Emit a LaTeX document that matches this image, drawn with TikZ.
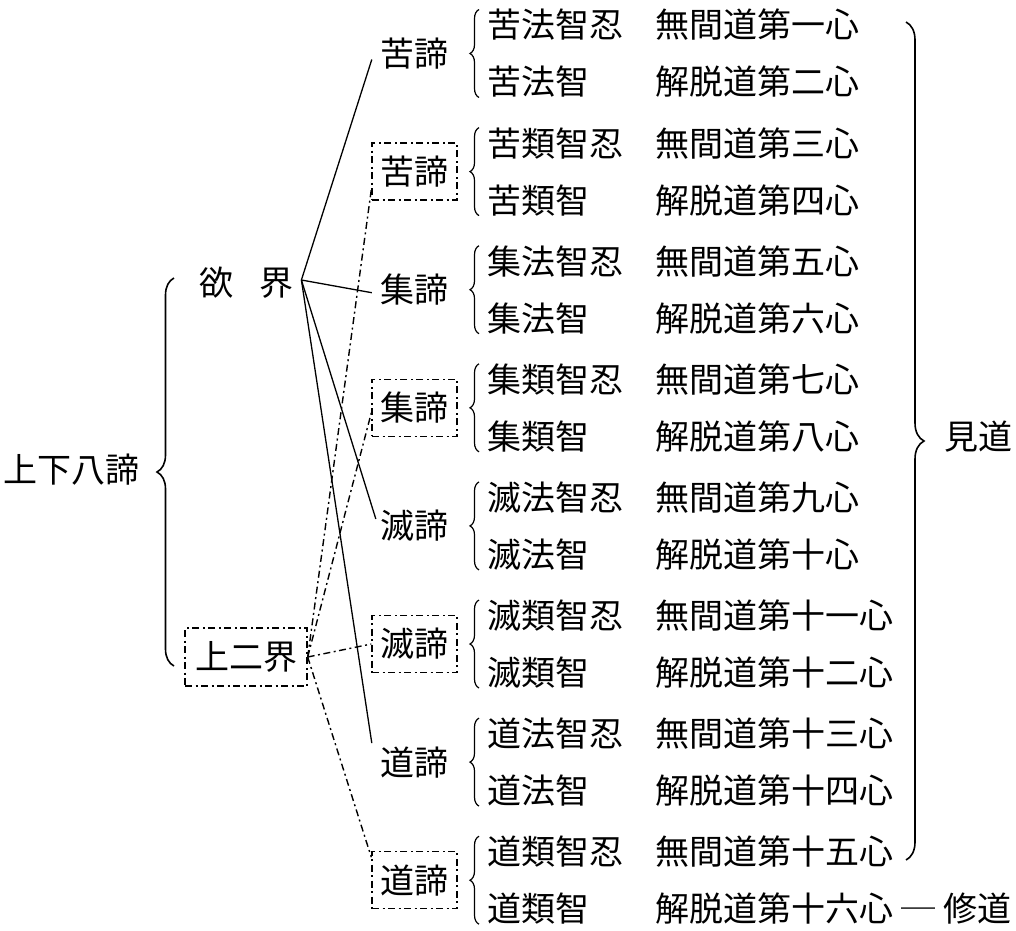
\documentclass[tikz,border=0pt]{standalone}
\usepackage{fontspec}
\setmainfont{Noto Sans CJK JP}
\usetikzlibrary{decorations.pathreplacing}
\begin{document}
\begin{tikzpicture}[x=1pt,y=-1pt,
  font=\fontsize{34pt}{40pt}\selectfont,
  txt/.style={inner sep=0pt, anchor=west},
  lab/.style={minimum width=85pt, minimum height=57pt, inner sep=0pt},
  ddot/.style={line width=1.4pt, dash pattern=on 7pt off 3.5pt on 2pt off 3.5pt},
  dbox/.style={draw, ddot},
  solidline/.style={line width=1.3pt},
  brc/.style={decorate, decoration={brace, amplitude=#1}, line width=1.2pt}]
\useasboundingbox (0,0) rectangle (1016,930);

% rows
\foreach \k/\A/\B/\C/\D in {
  1/苦法智忍/無間道第一心/苦法智/解脱道第二心,
  2/苦類智忍/無間道第三心/苦類智/解脱道第四心,
  3/集法智忍/無間道第五心/集法智/解脱道第六心,
  4/集類智忍/無間道第七心/集類智/解脱道第八心,
  5/滅法智忍/無間道第九心/滅法智/解脱道第十心,
  6/滅類智忍/無間道第十一心/滅類智/解脱道第十二心,
  7/道法智忍/無間道第十三心/道法智/解脱道第十四心,
  8/道類智忍/無間道第十五心/道類智/解脱道第十六心\hspace{8pt}─\hspace{8pt}修道}{
  \node[txt] (a\k) at (487,{25+118.1*(\k-1)}) {\A};
  \node[txt] (b\k) at (655,{25+118.1*(\k-1)}) {\B};
  \node[txt] (c\k) at (487,{82+118.1*(\k-1)}) {\C};
  \node[txt] (d\k) at (655,{82+118.1*(\k-1)}) {\D};
  \draw[brc=9pt] (479,{53.5+118.1*(\k-1)+44}) -- (479,{53.5+118.1*(\k-1)-44});
}

% labels
\node[lab] (L1) at (414.5,53.5) {苦諦};
\node[lab,dbox] (L2) at (414.5,171.6) {苦諦};
\node[lab] (L3) at (414.5,289.7) {集諦};
\node[lab,dbox] (L4) at (414.5,407.8) {集諦};
\node[lab] (L5) at (414.5,525.9) {滅諦};
\node[lab,dbox] (L6) at (414.5,644) {滅諦};
\node[lab] (L7) at (414.5,762.1) {道諦};
\node[lab,dbox] (L8) at (414.5,880.2) {道諦};

% left part
\node[txt] (top) at (3,470) {上下八諦};
\node[txt] (yu) at (199,283) {欲\hspace{26pt}界};
\node[draw, ddot, minimum width=122pt, minimum height=58pt, inner sep=0pt] (er) at (246,657) {上二界};
\draw[brc=17pt, line width=1.6pt] (174,666) -- (174,278);

% right part
\node (jian) at (978,437) {見道};
\draw[brc=18pt, line width=1.6pt] (906,22) -- (906,860);

% connectors
\coordinate (yuR) at ([xshift=8pt,yshift=3pt]yu.east);
\draw[solidline] (yuR) -- ([yshift=-6pt]L1.west);
\draw[solidline] (yuR) -- ([yshift=-3pt]L3.west);
\draw[solidline] (yuR) -- ([xshift=4pt,yshift=7pt]L5.west);
\draw[solidline] (yuR) -- ([yshift=19pt]L7.west);
\draw[ddot] (er.east) -- ([yshift=-18pt]L2.west);
\draw[ddot] (er.east) -- ([yshift=-5pt]L4.west);
\draw[ddot] (er.east) -- (L6.west);
\draw[ddot] (er.east) -- ([yshift=23pt]L8.west);
\end{tikzpicture}
\end{document}
